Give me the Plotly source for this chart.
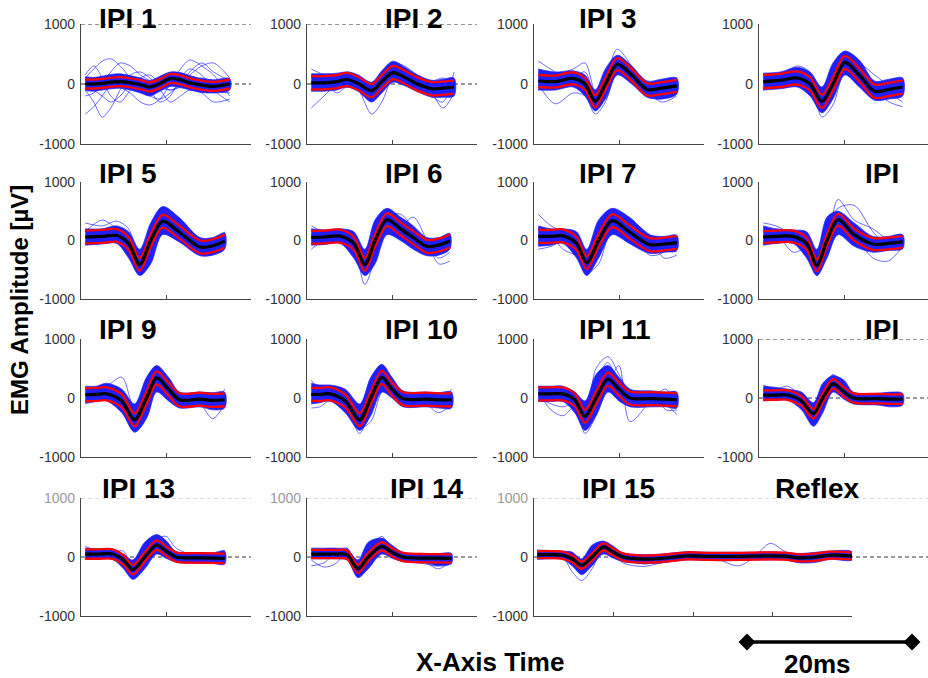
import plotly.graph_objects as go

W, H = 928, 678

# ---------------------------------------------------------------------------
# Evoked EMG responses per inter-pulse interval (time in ms, amplitude in µV).
# For each condition: sample times, mean response, standard deviation,
# lower / upper edge of the dense bundle of single trials, and a few
# individual outlying trials sampled at the same times.
# ---------------------------------------------------------------------------
IPI1_T = [0.5, 1.5, 2.5, 3.5, 4.6, 5.8, 7.0, 8.1, 9.3, 10.5, 11.7, 12.8, 14.2, 15.6, 17.5]
IPI1_MEAN = [0, 0, 10, 30, 40, 20, -10, -50, 10, 90, 70, 20, -20, -40, 0]
IPI1_SD = 75
IPI1_LO = [-110, -120, -100, -80, -70, -100, -150, -200, -120, -40, -60, -100, -140, -150, -100]
IPI1_HI = [120, 110, 130, 160, 170, 140, 100, 60, 130, 200, 190, 140, 90, 70, 90]
IPI1_TRIALS = [
    [-500, -380, -200, 0, 150, 100, -50, -150, -100, 50, 150, 100, 0, -100, -150],
    [-100, -300, -550, -400, -100, 150, 200, 100, -50, -100, -50, 50, 100, 50, 0],
    [100, 250, 380, 420, 300, 100, -100, -200, -250, -150, 0, 150, 300, 350, 100],
    [50, 100, 100, 50, -50, -150, -300, -350, -250, 0, 250, 400, 300, 150, -200],
    [-200, -150, 0, 200, 350, 300, 150, 50, -100, -300, -200, -100, -150, -300, -250],
    [150, 300, 100, -200, -300, -100, 100, 150, 0, -100, 0, 200, 350, 200, 50],
    [0, -100, -200, -300, -200, 0, 100, -100, -300, -200, 100, 250, 150, -100, -300],
]

IPI2_T = [0.5, 2.0, 3.5, 4.7, 6.0, 7.6, 8.8, 10.1, 11.5, 13.0, 14.7, 16.0, 17.3]
IPI2_MEAN = [20, 20, 40, 75, 10, -110, 40, 190, 110, 0, -80, -70, -50]
IPI2_SD = 110
IPI2_LO = [-120, -120, -100, -50, -120, -300, -150, 30, -30, -130, -220, -220, -200]
IPI2_HI = [170, 170, 180, 200, 150, 30, 220, 380, 280, 150, 60, 80, 100]
IPI2_TRIALS = [
    [-400, -200, 0, 100, 0, -200, -50, 150, 150, 50, -50, -150, -100],
    [100, 50, -150, -50, -100, -500, -300, 100, 150, 50, -100, -150, -100],
    [50, 100, 150, 100, 0, -150, 0, 200, 200, 100, -150, -400, -150],
    [-100, -50, 100, 200, 150, 0, 50, 250, 200, 50, -200, -300, 200],
    [250, 150, 50, 150, -50, -250, 100, 350, 300, 150, 50, 100, 0],
]

IPI3_T = [0.5, 2.5, 4.6, 6.0, 7.2, 8.4, 9.8, 11.5, 13.3, 15.0, 16.8]
IPI3_MEAN = [50, 40, 95, 0, -290, 0, 330, 150, -90, -70, -30]
IPI3_SD = 100
IPI3_LO = [-100, -100, -50, -200, -450, -250, 150, 0, -220, -250, -170]
IPI3_HI = [250, 200, 220, 150, -100, 250, 480, 300, 50, 80, 100]
IPI3_TRIALS = [
    [380, 200, 0, -100, -300, -200, 200, 100, -150, -250, -100],
    [0, -330, -150, -200, -500, -300, 250, 200, -100, -300, -200],
    [100, 150, 250, 350, -100, 100, 580, 300, 0, 50, 100],
    [-100, 0, 100, 200, -200, -250, 200, 250, -200, -150, 50],
]

IPI4_T = [0.5, 2.5, 4.5, 6.0, 7.4, 8.7, 10.1, 11.8, 13.6, 15.3, 16.9]
IPI4_MEAN = [40, 60, 100, 0, -290, 0, 360, 150, -120, -90, -50]
IPI4_SD = 110
IPI4_LO = [-100, -80, -50, -200, -480, -250, 150, -50, -270, -250, -200]
IPI4_HI = [180, 200, 280, 200, -50, 350, 550, 400, 50, 80, 100]
IPI4_TRIALS = [
    [150, 150, 300, 200, -150, 100, 500, 300, -100, -300, -380],
    [-100, 0, 100, 50, -550, -350, 200, 250, 0, -150, -300],
    [100, 100, 50, -100, -400, -100, 400, 350, 150, 0, 100],
]

IPI5_T = [0.5, 2.5, 4.2, 5.6, 6.9, 8.2, 9.6, 11.5, 14.0, 15.5, 16.9]
IPI5_MEAN = [60, 70, 85, -50, -410, 0, 330, 150, -110, -90, -10]
IPI5_SD = 110
IPI5_LO = [-80, -60, -50, -300, -600, -400, 100, -20, -260, -250, -150]
IPI5_HI = [200, 200, 250, 150, -150, 300, 580, 400, 50, 50, 130]
IPI5_TRIALS = [
    [300, 250, 330, 200, -300, 100, 450, 300, -50, -150, 150],
    [150, 350, 200, 50, -500, -300, 250, 250, -50, -50, 80],
]

IPI6_T = [0.5, 2.0, 3.9, 5.5, 6.8, 8.0, 9.4, 11.0, 12.5, 14.1, 15.5, 16.8]
IPI6_MEAN = [55, 60, 75, -50, -410, 0, 355, 200, 50, -100, -80, -10]
IPI6_SD = 110
IPI6_LO = [-80, -70, -50, -300, -600, -400, 100, 0, -150, -260, -250, -150]
IPI6_HI = [200, 180, 200, 150, -150, 350, 550, 400, 250, 50, 50, 120]
IPI6_TRIALS = [
    [250, 150, 100, -100, -750, -300, 300, 250, 100, -100, -300, -200],
    [100, 150, 100, 100, -300, 300, 500, 250, 400, 0, -400, -350],
    [-150, 0, 50, 0, -500, -200, 400, 450, 200, -200, -150, 100],
]

IPI7_T = [0.5, 2.0, 3.4, 5.0, 6.2, 7.6, 9.2, 11.2, 13.6, 15.3, 16.8]
IPI7_MEAN = [70, 70, 80, -50, -380, 0, 340, 150, -70, -60, -35]
IPI7_SD = 110
IPI7_LO = [-100, -80, -50, -300, -600, -300, 100, -50, -220, -200, -170]
IPI7_HI = [250, 200, 200, 150, -150, 350, 550, 400, 100, 70, 90]
IPI7_TRIALS = [
    [450, 250, 150, 0, -250, 50, 400, 350, 100, -100, -200],
    [-150, -100, 0, -100, -550, -400, 200, 250, 50, -300, -250],
    [200, 100, -150, -250, -350, 100, 500, 200, -250, -200, 0],
]

IPI8_T = [0.5, 2.0, 4.0, 5.6, 6.8, 8.0, 9.3, 11.2, 13.4, 15.2, 16.9]
IPI8_MEAN = [60, 70, 70, -50, -425, 0, 355, 100, -60, -50, -20]
IPI8_SD = 100
IPI8_LO = [-80, -50, -50, -300, -600, -300, 100, -100, -200, -170, -140]
IPI8_HI = [250, 200, 180, 150, -150, 400, 500, 300, 70, 70, 100]
IPI8_TRIALS = [
    [300, 250, 100, 0, -200, 200, 550, 600, 150, -100, -50],
    [0, 100, -200, -150, -600, -200, 300, 100, -300, -350, -100],
    [100, 50, 150, 50, -400, -100, 700, 350, 200, 0, -150],
]

IPI9_T = [0.5, 1.8, 3.0, 4.8, 6.3, 7.7, 8.9, 10.3, 11.6, 14.0, 15.5, 16.9]
IPI9_MEAN = [55, 60, 70, -50, -370, 0, 340, 150, -30, -20, -40, -30]
IPI9_SD = 110
IPI9_LO = [-80, -60, -50, -250, -580, -350, 100, -50, -170, -150, -200, -170]
IPI9_HI = [200, 200, 250, 150, -100, 350, 550, 350, 100, 100, 90, 100]
IPI9_TRIALS = [
    [100, 150, 200, 350, -200, -300, 200, 250, 0, -50, -150, 150],
    [-100, -50, 0, -150, -550, -150, 500, 300, 50, -100, -350, -100],
]

IPI10_T = [0.5, 1.5, 2.7, 4.5, 6.2, 7.5, 8.8, 10.0, 11.3, 14.0, 15.5, 17.0]
IPI10_MEAN = [60, 60, 70, -50, -370, 0, 350, 150, -10, -20, -30, -30]
IPI10_SD = 110
IPI10_LO = [-100, -80, -50, -250, -550, -300, 100, 0, -150, -150, -170, -170]
IPI10_HI = [250, 220, 220, 150, -100, 350, 570, 350, 120, 100, 90, 100]
IPI10_TRIALS = [
    [300, 150, 100, -100, -500, -400, 100, 200, 50, -50, -100, 150],
    [-170, -150, -50, -150, -600, -100, 550, 300, 0, -100, -250, -100],
]

IPI11_T = [0.5, 2.0, 3.4, 4.8, 6.0, 7.3, 8.7, 10.0, 11.3, 14.0, 15.5, 16.8]
IPI11_MEAN = [70, 70, 70, -30, -310, 0, 320, 150, 0, -10, -20, -30]
IPI11_SD = 110
IPI11_LO = [-60, -60, -60, -250, -550, -300, 100, -50, -150, -150, -150, -170]
IPI11_HI = [200, 200, 200, 100, -50, 400, 550, 350, 150, 120, 100, 100]
IPI11_TRIALS = [
    [100, -200, -300, -150, -400, 500, 700, 400, 100, 50, -100, -280],
    [0, -100, -150, -100, -600, -300, 200, 550, -400, 0, 150, -150],
    [200, 100, 0, 100, -200, 300, 600, 200, 0, 100, -200, -200],
]

IPI12_T = [0.5, 2.0, 3.4, 5.0, 6.4, 7.5, 8.7, 10.0, 11.1, 14.0, 15.5, 16.9]
IPI12_MEAN = [50, 50, 50, -50, -265, 0, 240, 100, 0, -10, -20, -20]
IPI12_SD = 80
IPI12_LO = [-50, -40, -40, -200, -480, -250, 100, -20, -100, -120, -150, -120]
IPI12_HI = [200, 180, 150, 100, -80, 250, 380, 300, 100, 80, 100, 80]
IPI12_TRIALS = [
    [220, 150, 200, 0, -350, 0, 400, 150, 50, -100, 80, 50],
]

IPI13_T = [0.5, 2.0, 3.7, 5.0, 6.1, 7.5, 8.9, 10.0, 11.2, 14.0, 15.5, 16.9]
IPI13_MEAN = [50, 50, 50, -50, -215, 0, 200, 100, 0, -15, -20, -25]
IPI13_SD = 80
IPI13_LO = [-40, -40, -40, -200, -380, -200, 50, -20, -90, -110, -110, -120]
IPI13_HI = [150, 140, 140, 50, -50, 250, 380, 280, 90, 70, 70, 100]
IPI13_TRIALS = [
    [180, 100, 80, 100, -200, -100, 300, 350, 150, 0, 0, 120],
]

IPI14_T = [0.5, 2.0, 3.5, 4.7, 6.0, 7.2, 8.8, 10.0, 11.3, 14.0, 15.5, 17.0]
IPI14_MEAN = [50, 50, 50, 40, -200, 0, 180, 80, 0, -20, -20, -25]
IPI14_SD = 70
IPI14_LO = [-30, -30, -30, -50, -350, -200, 50, -20, -80, -100, -150, -110]
IPI14_HI = [150, 150, 150, 130, -50, 250, 320, 200, 80, 60, 60, 60]
IPI14_TRIALS = [
    [-50, -170, -100, 150, -250, -200, 200, 150, 50, -100, -200, -50],
    [-150, -100, 100, 150, -100, 100, 350, 100, -50, -120, -150, -30],
]

# IPI 15 followed by the reflex window, on one 40 ms time base
IPI15_T = [0.4, 2.0, 3.6, 4.8, 6.0, 7.3, 8.7, 10.0, 11.2, 13.7, 16.0, 19.2, 22.0,
           25.7, 27.7, 29.7, 31.5, 33.5, 35.5, 37.2, 40.0]
IPI15_MEAN = [40, 40, 30, -30, -140, 0, 170, 80, 0, -35, -25, 20, 10,
              10, 15, 20, 15, -15, 0, 30, 20]
IPI15_SD = 60
IPI15_LO = [-40, -30, -40, -150, -300, -150, 50, -20, -80, -110, -100, -50, -60,
            -60, -50, -50, -50, -100, -90, -40, -50]
IPI15_HI = [120, 110, 100, 80, -30, 200, 270, 180, 70, 40, 50, 90, 80,
            80, 80, 90, 80, 60, 80, 100, 90]
IPI15_TRIALS = [
    [60, 40, 0, -250, -400, -200, 150, 100, 0, -50, -30, 10, 10,
     10, 15, 20, 15, -15, 0, 30, 20],
    [0, 0, 10, 0, -50, 50, 150, 50, -100, -160, -100, 0, 20,
     -150, 0, 230, 100, -20, -50, 30, 20],
    [-20, 20, 60, 80, -200, -100, 200, 150, 50, -120, -60, 40, 30,
     20, 20, 10, 10, -80, -60, 40, 30],
]

PANEL_TITLES = ["IPI 1", "IPI 2", "IPI 3", "", "IPI 5", "IPI 6", "IPI 7", "IPI",
                "IPI 9", "IPI 10", "IPI 11", "IPI", "IPI 13", "IPI 14", "IPI 15"]
Y_TICKS = [-1000, 0, 1000]
SCALE_BAR_MS = 20

PANELS = [
    (IPI1_T, IPI1_MEAN, IPI1_SD, IPI1_LO, IPI1_HI, IPI1_TRIALS),
    (IPI2_T, IPI2_MEAN, IPI2_SD, IPI2_LO, IPI2_HI, IPI2_TRIALS),
    (IPI3_T, IPI3_MEAN, IPI3_SD, IPI3_LO, IPI3_HI, IPI3_TRIALS),
    (IPI4_T, IPI4_MEAN, IPI4_SD, IPI4_LO, IPI4_HI, IPI4_TRIALS),
    (IPI5_T, IPI5_MEAN, IPI5_SD, IPI5_LO, IPI5_HI, IPI5_TRIALS),
    (IPI6_T, IPI6_MEAN, IPI6_SD, IPI6_LO, IPI6_HI, IPI6_TRIALS),
    (IPI7_T, IPI7_MEAN, IPI7_SD, IPI7_LO, IPI7_HI, IPI7_TRIALS),
    (IPI8_T, IPI8_MEAN, IPI8_SD, IPI8_LO, IPI8_HI, IPI8_TRIALS),
    (IPI9_T, IPI9_MEAN, IPI9_SD, IPI9_LO, IPI9_HI, IPI9_TRIALS),
    (IPI10_T, IPI10_MEAN, IPI10_SD, IPI10_LO, IPI10_HI, IPI10_TRIALS),
    (IPI11_T, IPI11_MEAN, IPI11_SD, IPI11_LO, IPI11_HI, IPI11_TRIALS),
    (IPI12_T, IPI12_MEAN, IPI12_SD, IPI12_LO, IPI12_HI, IPI12_TRIALS),
    (IPI13_T, IPI13_MEAN, IPI13_SD, IPI13_LO, IPI13_HI, IPI13_TRIALS),
    (IPI14_T, IPI14_MEAN, IPI14_SD, IPI14_LO, IPI14_HI, IPI14_TRIALS),
    (IPI15_T, IPI15_MEAN, IPI15_SD, IPI15_LO, IPI15_HI, IPI15_TRIALS),
]

# ---------------------------------------------------------------------------
# Page geometry (pixels)
# ---------------------------------------------------------------------------
COL_LEFT = [81, 307, 534, 759]
PANEL_W = 170
ROW_TOP = [24, 182, 339, 498]      # y of +1000
ROW_BOT = [144, 299, 457, 616]     # y of -1000
TITLE_X = [[97, 383, 577, 863], [97, 383, 577, 863],
           [97, 383, 577, 863], [100, 388, 580, 773]]
TITLE_Y = [18, 174, 329, 488]

FONT = "Liberation Sans, Arial, Helvetica, sans-serif"
BLUE_FILL = "rgba(0,0,255,0.88)"
BLUE_EDGE = "rgba(40,40,255,0.75)"
TRIAL_LINE = "rgba(30,30,255,0.65)"


def px_x(x):
    return x / W


def px_y(y):
    return 1 - y / H


fig = go.Figure()
layout = dict(
    width=W, height=H,
    margin=dict(l=0, r=0, t=0, b=0, pad=0, autoexpand=False),
    paper_bgcolor="white", plot_bgcolor="white",
    showlegend=False,
    font=dict(family=FONT, color="#333"),
)
shapes = []
annotations = []

for i, (t, mean, sd, lo, hi, trials) in enumerate(PANELS):
    row, col = divmod(i, 4)
    n = i + 1
    xa, ya = f"x{n}", f"y{n}"
    x0 = COL_LEFT[col]
    if n == 15:
        x1 = 852
        xrange_ = [0, 40]
        xticks = [10, 20, 30, 40]
    else:
        x1 = min(x0 + PANEL_W, W)
        xrange_ = [0, 20 * (x1 - x0) / PANEL_W]
        xticks = [10, 20]

    top_label = "1000" if row < 3 else "<span style='color:#9a9a9a'>1000</span>"
    layout[f"xaxis{n}"] = dict(
        domain=[px_x(x0), px_x(x1)], range=xrange_, anchor=ya, automargin=False,
        showline=True, linecolor="#444", linewidth=1.2, mirror=False,
        ticks="inside", ticklen=4, tickcolor="#444", tickvals=xticks,
        showticklabels=False, showgrid=False, zeroline=False, fixedrange=True,
    )
    layout[f"yaxis{n}"] = dict(
        domain=[px_y(ROW_BOT[row]), px_y(ROW_TOP[row])], range=[-1000, 1000],
        anchor=xa, automargin=False, showline=True, linecolor="#444", linewidth=1.2,
        ticks="", tickvals=Y_TICKS, ticktext=["-1000", "0", top_label],
        tickfont=dict(family=FONT, size=14, color="#333"),
        ticklabelstandoff=2,
        showgrid=False, zeroline=False, fixedrange=True,
    )

    # dashed reference lines at 0 and +1000
    dash_cfg = {1: ("axis", True), 2: ("axis", True), 12: ("page", True),
                13: ("axis", "light"), 14: ("axis", "light"), 15: ("page", "light")}
    if n in dash_cfg:
        extent, top_style = dash_cfg[n]
        if extent == "page":
            xr, xs, xe = "paper", px_x(x0), 1.0
        else:
            xr, xs, xe = xa, xrange_[0], xrange_[1]
        shapes.append(dict(type="line", xref=xr, yref=ya, x0=xs, x1=xe, y0=0, y1=0,
                           line=dict(color="#333", width=1, dash="4px,3px"), layer="below"))
        top_color = "#333" if top_style is True else "#b5b5b5"
        shapes.append(dict(type="line", xref=xr, yref=ya, x0=xs, x1=xe, y0=1000, y1=1000,
                           line=dict(color=top_color, width=1, dash="4px,3px"), layer="below"))

    # dense bundle of single trials
    fig.add_trace(go.Scatter(
        x=t + t[::-1], y=hi + lo[::-1], mode="lines", fill="toself",
        fillcolor=BLUE_FILL, line=dict(color=BLUE_EDGE, width=1, shape="spline", smoothing=0.9),
        xaxis=xa, yaxis=ya, hoverinfo="skip"))
    # individual outlying trials
    for tr in trials:
        fig.add_trace(go.Scatter(
            x=t, y=tr, mode="lines",
            line=dict(color=TRIAL_LINE, width=1, shape="spline", smoothing=0.9),
            xaxis=xa, yaxis=ya, hoverinfo="skip"))
    # mean ± SD
    for sign in (1, -1):
        fig.add_trace(go.Scatter(
            x=t, y=[m + sign * sd for m in mean], mode="lines",
            line=dict(color="#ff0000", width=2.3, shape="spline", smoothing=0.9),
            xaxis=xa, yaxis=ya, hoverinfo="skip"))
    fig.add_trace(go.Scatter(
        x=t, y=mean, mode="lines",
        line=dict(color="#000000", width=3.2, shape="spline", smoothing=0.9),
        xaxis=xa, yaxis=ya, hoverinfo="skip"))

# panel titles
for i, title in enumerate(PANEL_TITLES + ["Reflex"]):
    if not title:
        continue
    row, col = (3, 3) if title == "Reflex" else divmod(i, 4)
    annotations.append(dict(
        text=f"<b>{title}</b>", xref="paper", yref="paper",
        x=px_x(TITLE_X[row][col]), y=px_y(TITLE_Y[row]),
        xanchor="left", yanchor="middle", showarrow=False,
        font=dict(family=FONT, size=28, color="#000")))

# axis titles
annotations.append(dict(
    text="<b>EMG Amplitude [µV]</b>", xref="paper", yref="paper",
    x=px_x(19), y=px_y(300), textangle=-90, showarrow=False,
    xanchor="center", yanchor="middle",
    font=dict(family=FONT, size=24, color="#000")))
annotations.append(dict(
    text="<b>X-Axis Time</b>", xref="paper", yref="paper",
    x=px_x(490), y=px_y(662), showarrow=False,
    xanchor="center", yanchor="middle",
    font=dict(family=FONT, size=26, color="#000")))
annotations.append(dict(
    text=f"<b>{SCALE_BAR_MS}ms</b>", xref="paper", yref="paper",
    x=px_x(817), y=px_y(664), showarrow=False,
    xanchor="center", yanchor="middle",
    font=dict(family=FONT, size=26, color="#000")))

# time scale bar on its own invisible axis
layout["xaxis16"] = dict(domain=[px_x(747), px_x(912)], range=[0, SCALE_BAR_MS],
                         anchor="y16", visible=False, fixedrange=True)
layout["yaxis16"] = dict(domain=[px_y(652), px_y(632)], range=[-1, 1],
                         anchor="x16", visible=False, fixedrange=True)
fig.add_trace(go.Scatter(
    x=[0, SCALE_BAR_MS], y=[0, 0], mode="lines+markers",
    line=dict(color="#000", width=3.5),
    marker=dict(symbol="diamond", size=13, color="#000"),
    cliponaxis=False, xaxis="x16", yaxis="y16", hoverinfo="skip"))

layout["shapes"] = shapes
layout["annotations"] = annotations
fig.update_layout(**layout)
fig.write_html("out.html", config={"displayModeBar": False})
